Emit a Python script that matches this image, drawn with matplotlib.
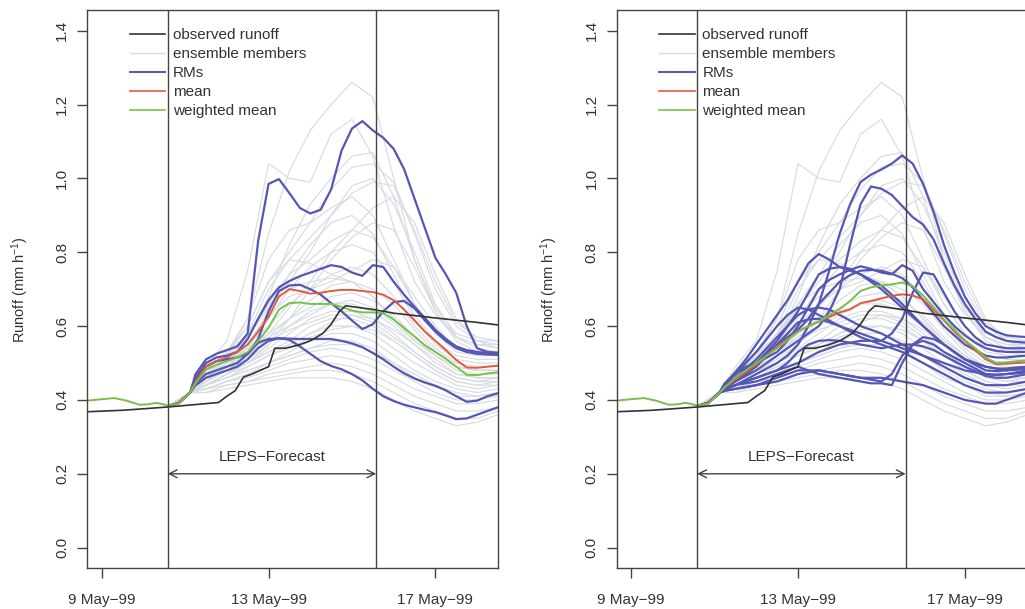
import matplotlib.pyplot as plt
from matplotlib.lines import Line2D

plt.rcParams['font.family'] = ['Liberation Sans', 'DejaVu Sans']
plt.rcParams['mathtext.default'] = 'regular'

# time in days since 9 May 1999 00:00
fc_start = 1.583
fc_end = 6.583
xticks = [0, 4, 8]
xticklabels = ['9 May\u221299', '13 May\u221299', '17 May\u221299']
yticks = [0.0, 0.2, 0.4, 0.6, 0.8, 1.0, 1.2, 1.4]

# observed runoff
obs_t = [-0.35, 0.5, 1.0, 1.6, 2.0, 2.5, 2.8, 3.0, 3.2, 3.4, 3.6, 3.8, 4.0, 4.15, 4.4,
         4.7, 5.0, 5.3, 5.5, 5.7, 5.85, 6.5, 7.0, 8.0, 9.0, 9.51]
obs_v = [0.368, 0.372, 0.376, 0.381, 0.385, 0.39, 0.393, 0.41, 0.425, 0.462, 0.47, 0.48,
         0.49, 0.54, 0.54, 0.548, 0.56, 0.58, 0.605, 0.64, 0.655, 0.645, 0.635, 0.622,
         0.61, 0.603]

# simulation before the forecast (weighted mean line)
pre_t = [-0.35, 0.0, 0.3, 0.6, 0.9, 1.1, 1.3, 1.45]
pre_v = [0.398, 0.402, 0.405, 0.398, 0.387, 0.388, 0.392, 0.389]

# ensemble members (12 h steps)
ens_t = [1.6, 2.12, 2.5, 3.0, 3.5, 4.0, 4.5, 5.0, 5.5, 6.0, 6.5, 7.0, 7.5, 8.0, 8.5, 9.0, 9.5]
ens = [
    [.383, .42, .47, .52, .62, .85, 1.02, 1.13, 1.2, 1.26, 1.22, 1.0, .78, .65, .58, .56, .56],
    [.383, .42, .49, .56, .75, 1.04, 1.0, .99, 1.12, 1.16, 1.06, .87, .72, .63, .57, .55, .55],
    [.383, .42, .46, .5, .56, .68, .82, .93, 1.0, 1.06, 1.07, .95, .78, .64, .57, .55, .54],
    [.383, .42, .47, .52, .6, .72, .8, .88, .97, 1.03, 1.04, .99, .85, .7, .6, .56, .55],
    [.383, .42, .46, .51, .58, .7, .78, .84, .9, .96, .99, .98, .86, .72, .61, .57, .56],
    [.383, .42, .48, .53, .62, .78, .86, .88, .92, .95, .9, .78, .66, .58, .54, .53, .53],
    [.383, .42, .46, .5, .55, .64, .74, .82, .88, .9, .85, .74, .63, .56, .52, .51, .51],
    [.383, .42, .47, .51, .57, .66, .74, .78, .83, .86, .84, .76, .66, .58, .53, .52, .52],
    [.383, .42, .45, .49, .54, .62, .7, .76, .8, .82, .8, .72, .62, .55, .51, .5, .5],
    [.383, .42, .48, .53, .6, .72, .78, .77, .74, .72, .68, .62, .56, .52, .49, .48, .48],
    [.383, .42, .46, .5, .55, .6, .66, .7, .74, .76, .74, .68, .6, .54, .5, .49, .49],
    [.383, .42, .45, .48, .52, .57, .62, .67, .71, .72, .7, .66, .59, .53, .49, .48, .48],
    [.383, .42, .46, .5, .54, .58, .62, .65, .68, .69, .67, .63, .57, .52, .48, .47, .47],
    [.383, .42, .45, .48, .51, .55, .6, .64, .66, .66, .64, .6, .55, .5, .47, .46, .46],
    [.383, .42, .45, .48, .5, .54, .58, .62, .64, .64, .62, .58, .53, .49, .46, .45, .45],
    [.383, .42, .44, .47, .5, .53, .56, .6, .62, .62, .6, .56, .52, .48, .45, .44, .44],
    [.383, .42, .44, .47, .49, .52, .55, .58, .6, .6, .58, .54, .5, .47, .44, .43, .44],
    [.383, .42, .44, .46, .48, .5, .53, .56, .58, .58, .56, .52, .48, .45, .43, .42, .43],
    [.383, .42, .44, .46, .48, .5, .52, .54, .56, .56, .54, .5, .46, .44, .42, .41, .42],
    [.383, .42, .43, .45, .47, .49, .51, .53, .54, .53, .51, .48, .45, .42, .4, .4, .41],
    [.383, .42, .43, .45, .46, .48, .5, .51, .52, .51, .49, .46, .43, .41, .39, .39, .4],
    [.383, .42, .43, .44, .45, .47, .48, .49, .5, .49, .47, .44, .41, .39, .37, .37, .38],
    [.383, .42, .42, .44, .45, .46, .47, .48, .48, .47, .45, .42, .39, .37, .35, .35, .37],
    [.383, .42, .42, .43, .44, .45, .46, .46, .46, .45, .43, .4, .37, .35, .33, .34, .36],
    [.383, .42, .44, .47, .5, .55, .62, .7, .78, .84, .88, .86, .76, .64, .56, .53, .52],
    [.383, .42, .45, .49, .55, .63, .68, .7, .72, .75, .78, .76, .68, .6, .54, .52, .52],
    [.383, .42, .46, .49, .53, .57, .6, .63, .66, .67, .65, .61, .56, .52, .49, .48, .48],
    [.383, .42, .45, .49, .52, .56, .59, .61, .63, .63, .61, .57, .53, .49, .46, .45, .46],
    [.383, .42, .44, .46, .49, .52, .54, .57, .59, .6, .59, .56, .52, .48, .45, .44, .45],
    [.383, .42, .43, .45, .47, .5, .52, .54, .55, .55, .53, .5, .47, .44, .41, .41, .42],
    [.383, .42, .45, .48, .5, .53, .55, .58, .61, .63, .62, .59, .55, .51, .47, .46, .46],
    [.383, .42, .47, .52, .58, .66, .7, .72, .73, .72, .68, .62, .56, .52, .49, .48, .48],
    [.383, .42, .46, .51, .57, .65, .72, .8, .9, .98, 1.0, .93, .8, .66, .57, .54, .53],
    [.383, .42, .44, .47, .52, .58, .65, .72, .8, .86, .92, .95, .88, .74, .62, .56, .54],
]

# 6 h steps for the highlighted lines
fine_t = [1.6, 1.85, 2.12, 2.25, 2.5, 2.75, 3.0, 3.25, 3.5, 3.75, 4.0, 4.25, 4.5, 4.75,
          5.0, 5.25, 5.5, 5.75, 6.0, 6.25, 6.5, 6.75, 7.0, 7.25, 7.5, 7.75, 8.0, 8.25,
          8.5, 8.75, 9.0, 9.25, 9.5]

left_rms = [
    [.383, .392, .42, .47, .51, .525, .535, .545, .58, .83, .985, .998, .96, .92, .905,
     .915, .97, 1.075, 1.135, 1.155, 1.13, 1.11, 1.08, 1.025, .945, .865, .785, .74, .69,
     .6, .54, .53, .528],
    [.383, .392, .42, .46, .5, .515, .52, .53, .565, .62, .67, .705, .722, .735, .745,
     .755, .765, .76, .745, .736, .765, .76, .72, .685, .652, .622, .59, .565, .545, .535,
     .53, .527, .526],
    [.383, .392, .42, .455, .49, .505, .51, .515, .525, .565, .64, .695, .71, .712, .70,
     .685, .662, .64, .615, .592, .605, .64, .665, .668, .648, .615, .585, .56, .54, .53,
     .525, .523, .522],
    [.383, .392, .42, .445, .47, .48, .49, .5, .525, .555, .565, .567, .566, .565, .565,
     .565, .565, .56, .553, .543, .527, .51, .49, .472, .458, .447, .438, .426, .41, .395,
     .398, .41, .418],
    [.383, .392, .42, .44, .46, .47, .48, .49, .51, .54, .56, .567, .563, .545, .525, .505,
     .492, .483, .47, .453, .43, .41, .397, .387, .38, .373, .367, .358, .348, .35, .36,
     .37, .38],
]
left_mean = [.383, .392, .42, .45, .49, .505, .515, .53, .55, .585, .625, .68, .70, .695,
             .688, .69, .695, .698, .698, .695, .692, .685, .67, .645, .615, .585, .56,
             .535, .508, .488, .487, .49, .493]
left_wmean = [.384, .39, .42, .445, .482, .495, .505, .515, .53, .56, .595, .645, .662,
              .664, .66, .66, .66, .652, .642, .637, .637, .635, .618, .595, .572, .548,
              .53, .512, .49, .468, .467, .472, .475]

right_rms = [
    [.383, .392, .42, .43, .44, .455, .47, .485, .5, .52, .55, .6, .66, .75, .85, .93, .99,
     1.01, 1.024, 1.04, 1.062, 1.04, .985, .91, .82, .745, .68, .635, .6, .585, .575,
     .572, .57],
    [.383, .392, .42, .435, .45, .465, .48, .5, .52, .54, .56, .58, .6, .64, .7, .82, .93,
     .978, .972, .955, .925, .895, .875, .835, .77, .71, .66, .62, .585, .57, .56, .557,
     .555],
    [.383, .392, .42, .445, .475, .51, .55, .59, .63, .67, .72, .77, .795, .78, .76, .75,
     .74, .725, .71, .685, .66, .63, .6, .575, .55, .53, .51, .5, .49, .485, .485, .488,
     .49],
    [.383, .392, .42, .445, .47, .49, .5, .515, .53, .56, .6, .65, .7, .725, .74, .752,
     .762, .755, .745, .74, .765, .75, .7, .665, .63, .6, .575, .555, .54, .533, .53, .53,
     .53],
    [.383, .392, .42, .43, .44, .45, .46, .47, .48, .49, .5, .515, .53, .54, .55, .555,
     .56, .56, .56, .58, .62, .69, .745, .74, .69, .64, .6, .57, .55, .545, .54, .54, .54],
    [.383, .392, .42, .44, .46, .48, .5, .53, .56, .6, .64, .69, .74, .755, .76, .755, .74,
     .72, .7, .675, .65, .625, .6, .575, .55, .53, .51, .5, .49, .485, .48, .482, .485],
    [.383, .392, .42, .44, .46, .485, .51, .54, .57, .6, .63, .645, .65, .645, .63, .615,
     .6, .59, .58, .565, .55, .535, .52, .505, .49, .475, .46, .45, .44, .44, .44, .445,
     .45],
    [.383, .392, .42, .435, .45, .47, .49, .52, .55, .58, .61, .618, .62, .61, .6, .585,
     .57, .56, .55, .54, .53, .515, .5, .485, .47, .455, .44, .43, .42, .42, .42, .425,
     .43],
    [.383, .392, .42, .43, .44, .445, .45, .46, .47, .48, .49, .48, .47, .465, .46, .455,
     .45, .445, .445, .44, .5, .55, .57, .565, .55, .53, .51, .495, .48, .478, .48, .485,
     .49],
    [.383, .392, .42, .425, .43, .435, .44, .445, .45, .46, .47, .475, .48, .475, .47,
     .465, .46, .455, .45, .47, .52, .55, .56, .55, .53, .515, .5, .485, .47, .468, .47,
     .475, .48],
    [.383, .392, .42, .43, .44, .45, .46, .47, .48, .5, .53, .55, .56, .562, .56, .555,
     .55, .545, .54, .545, .55, .55, .545, .535, .52, .505, .49, .478, .465, .46, .46,
     .465, .47],
    [.383, .392, .42, .425, .43, .435, .44, .45, .46, .47, .48, .48, .48, .475, .47, .465,
     .46, .46, .46, .455, .45, .445, .44, .43, .42, .41, .4, .395, .39, .39, .4, .41, .42],
    [.383, .392, .42, .445, .47, .5, .53, .565, .6, .63, .65, .645, .63, .615, .6, .59,
     .58, .57, .56, .55, .54, .53, .52, .51, .5, .49, .48, .475, .47, .468, .47, .472,
     .475],
    [.383, .392, .42, .435, .45, .475, .5, .525, .55, .57, .59, .62, .66, .69, .72, .738,
     .75, .752, .75, .742, .73, .705, .67, .635, .6, .575, .55, .535, .52, .515, .515,
     .518, .52],
]
right_mean = [.383, .392, .42, .435, .455, .475, .495, .52, .545, .565, .585, .6, .612,
              .625, .637, .645, .662, .668, .675, .682, .686, .683, .672, .645, .615,
              .585, .56, .535, .51, .497, .498, .5, .502]
right_wmean = [.384, .39, .42, .435, .46, .48, .5, .52, .54, .562, .585, .6, .612, .63,
               .646, .668, .695, .705, .71, .713, .718, .708, .683, .652, .618, .59,
               .562, .54, .515, .5, .502, .505, .507]

c_obs = '#333333'
c_ens = '#d8dbe1'
c_rm = '#5457b4'
c_mean = '#e05a3c'
c_wmean = '#74c24a'
c_txt = '#333333'
c_frame = '#444444'

fig = plt.figure(figsize=(10.25, 6.09), dpi=100)
fig.patch.set_facecolor('white')


def panel(rect, rms, mean, wmean):
    ax = fig.add_axes(rect)
    for m in ens:
        ax.plot(ens_t, m, color=c_ens, lw=0.85)
    for m in rms:
        ax.plot(fine_t, m, color=c_rm, lw=1.6)
    ax.plot(fine_t, mean, color=c_mean, lw=1.4)
    ax.plot(pre_t + fine_t, pre_v + wmean, color=c_wmean, lw=1.4)
    ax.plot(obs_t, obs_v, color=c_obs, lw=1.2)

    ax.axvline(fc_start, color=c_frame, lw=1)
    ax.axvline(fc_end, color=c_frame, lw=1)
    ax.annotate('', xy=(fc_end, 0.2), xytext=(fc_start, 0.2),
                arrowprops=dict(arrowstyle='<->', color=c_frame, lw=1,
                                shrinkA=0, shrinkB=0, mutation_scale=14))
    ax.text((fc_start + fc_end) / 2, 0.246, 'LEPS\u2212Forecast', ha='center',
            va='center', fontsize=11, color=c_txt)

    ax.set_xlim(-0.345, 9.51)
    ax.set_ylim(-0.056, 1.456)
    ax.set_xticks(xticks)
    ax.set_xticklabels(xticklabels)
    ax.set_yticks(yticks)
    ax.set_yticklabels(['%.1f' % v for v in yticks], rotation=90, va='center')
    ax.tick_params(axis='both', direction='out', length=7, width=1, colors=c_frame,
                   labelcolor=c_txt, labelsize=11)
    ax.tick_params(axis='x', pad=11)
    ax.tick_params(axis='y', pad=6)
    for s in ax.spines.values():
        s.set_color(c_frame)
        s.set_linewidth(1)
    ax.set_ylabel('Runoff (mm h$^{-1}$)', fontsize=10.5, color=c_txt)
    ax.yaxis.set_label_coords(-0.138, 0.5)

    handles = [Line2D([], [], color=c_obs, lw=1.2), Line2D([], [], color=c_ens, lw=1),
               Line2D([], [], color=c_rm, lw=1.4), Line2D([], [], color=c_mean, lw=1.2),
               Line2D([], [], color=c_wmean, lw=1.2)]
    labels = ['observed runoff', 'ensemble members', 'RMs', 'mean', 'weighted mean']
    leg = ax.legend(handles, labels, loc='upper left', bbox_to_anchor=(0.104, 0.968),
                    frameon=False, handlelength=2.3, handletextpad=0.5,
                    labelspacing=0.33, borderaxespad=0, borderpad=0, fontsize=11)
    for t in leg.get_texts():
        t.set_color(c_txt)
    return ax


panel([0.0852, 0.0668, 0.401, 0.9168], left_rms, left_mean, left_wmean)
panel([0.6017, 0.0668, 0.401, 0.9168], right_rms, right_mean, right_wmean)

fig.savefig('out.png', dpi=100)
